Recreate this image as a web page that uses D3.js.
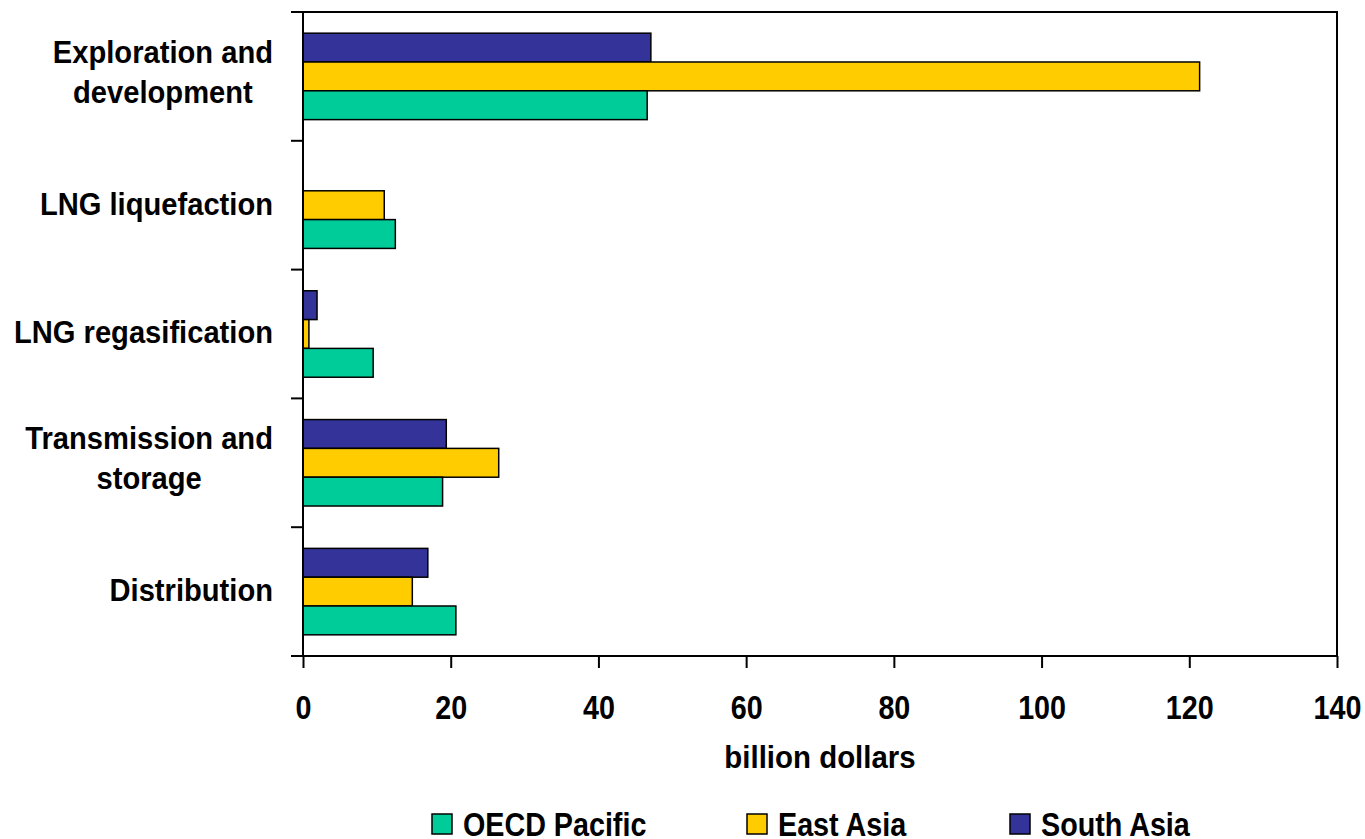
<!DOCTYPE html>
<html>
<head>
<meta charset="utf-8">
<script src="https://cdn.jsdelivr.net/npm/d3@7"></script>
<style>
  body { margin: 0; background: #fff; }
  svg text { font-family: "Liberation Sans", Arial, sans-serif; font-weight: bold; fill: #000; }
</style>
</head>
<body>
<div id="chart"></div>
<script>
const svgWidth = 1365;
const svgHeight = 839;
const margin = {top: 12, right: 28, bottom: 183, left: 303};
const width = svgWidth - margin.left - margin.right;
const height = svgHeight - margin.top - margin.bottom;

// data
const categories = ["Exploration and\ndevelopment", "LNG liquefaction", "LNG regasification", "Transmission and\nstorage", "Distribution"];
const seriesNames = ["South Asia", "East Asia", "OECD Pacific"];
const southAsia = [47.1, 0, 1.9, 19.4, 16.9];
const eastAsia = [121.4, 11.0, 0.8, 26.5, 14.8];
const oecdPacific = [46.6, 12.5, 9.5, 18.9, 20.7];
const xTicks = [0, 20, 40, 60, 80, 100, 120, 140];
const colors = {"OECD Pacific": "#00cc99", "East Asia": "#ffcc00", "South Asia": "#333399"};
const legendOrder = ["OECD Pacific", "East Asia", "South Asia"];

const values = {"South Asia": southAsia, "East Asia": eastAsia, "OECD Pacific": oecdPacific};

// the original uses a condensed face, so squeeze Liberation Sans horizontally
const squeeze = {label: 0.94, tick: 0.87, title: 0.92, legend: 0.87};

const svg = d3.select("#chart").append("svg")
    .attr("width", svgWidth)
    .attr("height", svgHeight);

const g = svg.append("g")
    .attr("transform", "translate(" + margin.left + "," + margin.top + ")");

const xscale = d3.scaleLinear().domain([0, 140]).range([0, width]);
const yscale = d3.scaleBand().domain(categories).range([0, height]);
const sub = d3.scaleBand().domain(seriesNames).range([0, yscale.bandwidth()])
    .paddingInner(0).paddingOuter(0.735);

// bars
categories.forEach(function(c, i) {
  seriesNames.forEach(function(s) {
    const v = values[s][i];
    if (v <= 0) return;
    g.append("rect")
      .attr("x", xscale(0))
      .attr("y", yscale(c) + sub(s))
      .attr("width", xscale(v) - xscale(0))
      .attr("height", sub.bandwidth())
      .attr("fill", colors[s])
      .attr("stroke", "#000")
      .attr("stroke-width", 1.5);
  });
});

// frame (top and right)
g.append("path")
  .attr("d", "M0,0H" + width + "V" + height)
  .attr("fill", "none").attr("stroke", "#000").attr("stroke-width", 2);

// x axis
const xaxis = d3.axisBottom(xscale).tickValues(xTicks).tickSize(12).tickSizeOuter(0).tickPadding(0);
const xg = g.append("g")
  .attr("transform", "translate(0," + height + ")")
  .call(xaxis);
xg.select(".domain").attr("stroke-width", 2).attr("d", "M-12,0H" + width);
xg.selectAll(".tick line").attr("stroke-width", 2);
xg.selectAll(".tick text")
  .attr("y", 0).attr("dy", 0)
  .attr("transform", "translate(0,63) scale(" + squeeze.tick + ",1)")
  .style("font-size", "33px");

// y axis with ticks at band edges
const edges = categories.map(function(c) { return yscale(c); }).concat([height]);
g.append("line")
  .attr("x1", 0).attr("x2", 0).attr("y1", 0).attr("y2", height)
  .attr("stroke", "#000").attr("stroke-width", 2);
g.selectAll(".ytick").data(edges).enter().append("line")
  .attr("class", "ytick")
  .attr("x1", -12).attr("x2", 0)
  .attr("y1", function(d) { return d; }).attr("y2", function(d) { return d; })
  .attr("stroke", "#000").attr("stroke-width", 2);

// category labels, lines centred on each other, block right aligned
const lineHeight = 40;
categories.forEach(function(c) {
  const lines = c.split("\n");
  const cy = yscale(c) + yscale.bandwidth() / 2;
  const off = lines.length > 1 ? 6.6 : 9.5;
  const lg = g.append("g");
  const t = lg.append("text").style("font-size", "31px").attr("text-anchor", "middle");
  const spans = lines.map(function(l, k) {
    return t.append("tspan")
      .attr("x", 0)
      .attr("y", cy + off + (k - (lines.length - 1) / 2) * lineHeight)
      .text(l);
  });
  const w = d3.max(spans, function(s) { return s.node().getComputedTextLength(); }) * squeeze.label;
  lg.attr("transform", "translate(" + (-30 - w / 2) + ",0) scale(" + squeeze.label + ",1)");
});

// axis title
g.append("text")
  .attr("transform", "translate(" + (width / 2) + "," + (768 - margin.top) + ") scale(" + squeeze.title + ",1)")
  .attr("text-anchor", "middle")
  .style("font-size", "32px")
  .text("billion dollars");

// legend
const legendX = [432, 747, 1010];
const legend = svg.selectAll(".legend").data(legendOrder).enter().append("g")
  .attr("class", "legend")
  .attr("transform", function(d, i) { return "translate(" + legendX[i] + ",814)"; });
legend.append("rect")
  .attr("width", 20).attr("height", 20)
  .attr("fill", function(d) { return colors[d]; })
  .attr("stroke", "#000").attr("stroke-width", 1.5);
legend.append("text")
  .attr("transform", "translate(31,22) scale(" + squeeze.legend + ",1)")
  .style("font-size", "33px")
  .text(function(d) { return d; });
</script>
</body>
</html>
